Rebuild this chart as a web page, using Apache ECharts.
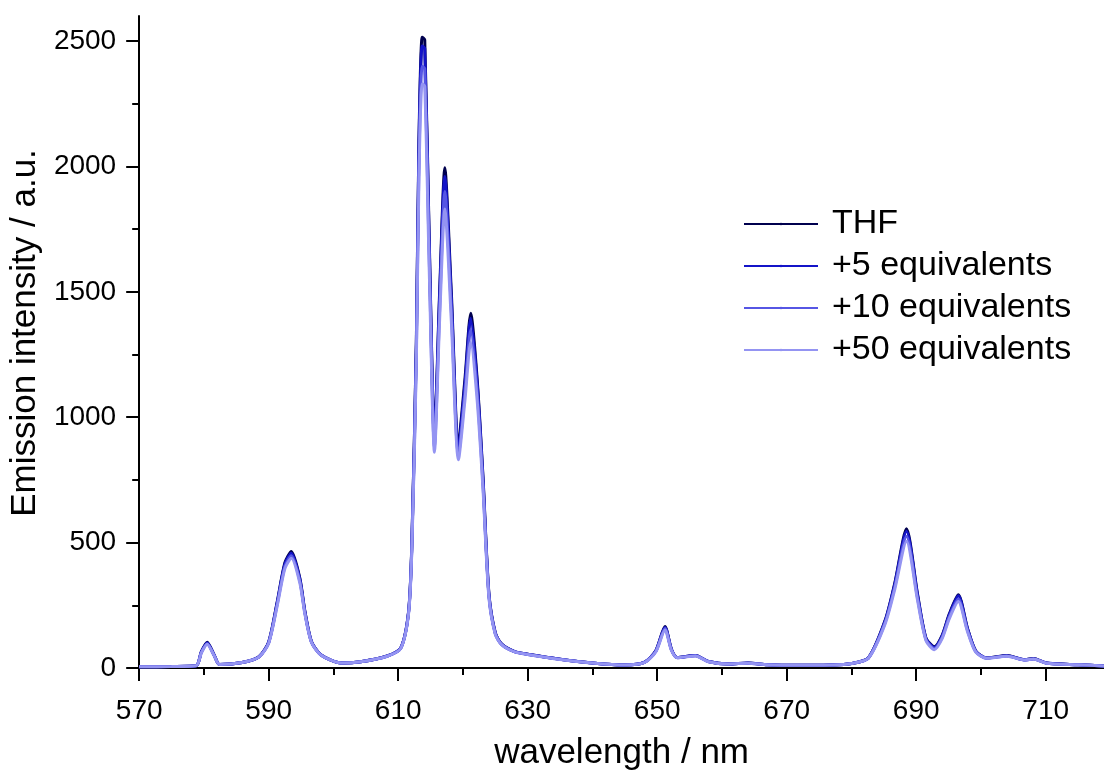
<!DOCTYPE html>
<html>
<head>
<meta charset="utf-8">
<script src="https://cdn.jsdelivr.net/npm/echarts@6/dist/echarts.min.js"></script>
<style>
html,body{margin:0;padding:0;background:#fff;}
#chart{width:1104px;height:776px;}
</style>
</head>
<body>
<div id="chart"></div>
<script>
const wavelength = [570,575,578.8,579.6,580.5,581.6,582.4,585.9,588.5,590.0,591.3,592.5,593.5,594.8,595.6,596.6,598.1,601.2,604.2,608.3,610.4,611.6,612.1,612.8,613.2,613.7,614.1,614.8,615.6,616.4,617.2,618.2,619.3,620.3,621.2,622.2,623.1,624.0,625.0,626.0,628.0,630.0,635.0,640.0,645.0,648.0,649.8,651.2,652.2,653.1,655.9,657.9,661,664,667,672,677,680,682.6,685.2,686.7,688.5,690.2,691.5,692.8,694.0,695.1,696.5,697.9,699.2,700.9,704.0,706.8,708.1,710.1,715,719];
const thf  = [5,6,9,65,103,51,14,22,45,104,262,420,465,360,225,106,52,20,25,48,80,225,490,1300,2100,2515,2505,1700,930,1500,1995,1500,900,1150,1415,1150,760,300,140,95,65,55,35,20,12,22,70,165,75,42,50,26,16,20,13,11,12,18,40,190,340,555,295,120,85,130,215,292,160,68,40,50,33,38,20,13,8];
const eq5  = [5,6,9,64,100,50,14,22,45,103,258,414,458,355,222,105,52,20,25,48,80,223,485,1285,2075,2480,2470,1680,910,1480,1960,1475,880,1130,1395,1135,750,297,139,94,65,55,35,20,12,22,69,162,74,42,50,26,16,20,13,11,12,18,40,187,335,545,290,118,82,127,211,288,158,67,40,49,33,37,20,13,8];
const eq10 = [5,6,9,62,97,49,14,22,44,101,252,405,448,348,218,104,51,20,25,47,79,220,475,1250,2010,2400,2390,1630,880,1430,1900,1430,850,1095,1350,1100,730,290,136,93,64,54,35,20,12,22,67,158,72,41,49,26,16,19,13,11,12,18,39,182,325,525,280,114,78,122,204,275,152,65,39,48,32,36,19,13,8];
const eq50 = [5,6,9,60,95,48,14,22,44,99,246,396,438,340,213,102,51,20,25,47,78,216,465,1215,1950,2330,2320,1580,860,1390,1830,1385,830,1065,1300,1065,710,284,134,92,64,54,34,20,12,21,65,152,70,41,48,25,16,19,13,11,12,18,39,176,315,505,270,110,73,117,196,265,147,63,39,47,32,36,19,13,8];
const seriesNames = ['THF','+5 equivalents','+10 equivalents','+50 equivalents'];
const xMajorTicks = [570,590,610,630,650,670,690,710];
const xMinorTicks = [580,600,620,640,660,680,700];
const yMajorTicks = [0,500,1000,1500,2000,2500];
const yMinorTicks = [250,750,1250,1750,2250];

const colors = ['#00004e','#1414c8','#5656e4','#9494f2'];
const FONT = 'Liberation Sans, Arial, sans-serif';
const chart = echarts.init(document.getElementById('chart'), null, {renderer:'canvas'});
const values = [thf, eq5, eq10, eq50];

const axisCommon = {
  type: 'value', splitLine: {show:false}
};
const option = {
  animation: false,
  backgroundColor: '#ffffff',
  grid: {left: 129, right: 0, top: 16, bottom: 103, containLabel: false},
  legend: {
    orient: 'vertical', left: 738, top: 202,
    itemWidth: 74, itemHeight: 3, itemGap: 8,
    data: seriesNames,
    textStyle: {fontFamily: FONT, fontSize: 34, color: '#000', lineHeight: 34, padding: [0,0,0,9]}
  },
  xAxis: [
    Object.assign({}, axisCommon, {
      min: 570, max: 719, interval: 20,
      name: 'wavelength / nm', nameLocation: 'middle', nameGap: 68,
      nameTextStyle: {fontFamily: FONT, fontSize: 35, color: '#000'},
      axisLine: {show: true, onZero: false, lineStyle: {color: '#000', width: 2}},
      axisTick: {show: true, inside: false, length: 13, lineStyle: {color: '#000', width: 2}, customValues: xMajorTicks},
      axisLabel: {fontFamily: FONT, fontSize: 28, color: '#000', margin: 29, customValues: xMajorTicks,
        formatter: v => String(v)}
    }),
    Object.assign({}, axisCommon, {
      min: 570, max: 719, interval: 20, position: 'bottom',
      axisLine: {show: false},
      axisTick: {show: true, inside: false, length: 7, lineStyle: {color: '#000', width: 2}, customValues: xMinorTicks},
      axisLabel: {show: false}
    })
  ],
  yAxis: [
    Object.assign({}, axisCommon, {
      min: 0, max: 2600, interval: 500,
      name: 'Emission intensity / a.u.', nameLocation: 'middle', nameGap: 82,
      nameTextStyle: {fontFamily: FONT, fontSize: 35, color: '#000', padding: [0, 0, 0, 18]},
      axisLine: {show: true, onZero: false, lineStyle: {color: '#000', width: 2}},
      axisTick: {show: true, inside: false, length: 13, lineStyle: {color: '#000', width: 2}, customValues: yMajorTicks},
      axisLabel: {fontFamily: FONT, fontSize: 28, color: '#000', margin: 23, customValues: yMajorTicks,
        formatter: v => String(v)}
    }),
    Object.assign({}, axisCommon, {
      min: 0, max: 2600, interval: 500, position: 'left',
      axisLine: {show: false},
      axisTick: {show: true, inside: false, length: 7, lineStyle: {color: '#000', width: 2}, customValues: yMinorTicks},
      axisLabel: {show: false}
    })
  ],
  series: seriesNames.map((name, k) => ({
    name: name, type: 'line', xAxisIndex: 0, yAxisIndex: 0,
    showSymbol: false, symbol: 'none', smooth: 0.25,
    color: colors[k],
    lineStyle: {color: colors[k], width: 3},
    data: wavelength.map((w, i) => [w, values[k][i]])
  }))
};
chart.setOption(option);
</script>
</body>
</html>
